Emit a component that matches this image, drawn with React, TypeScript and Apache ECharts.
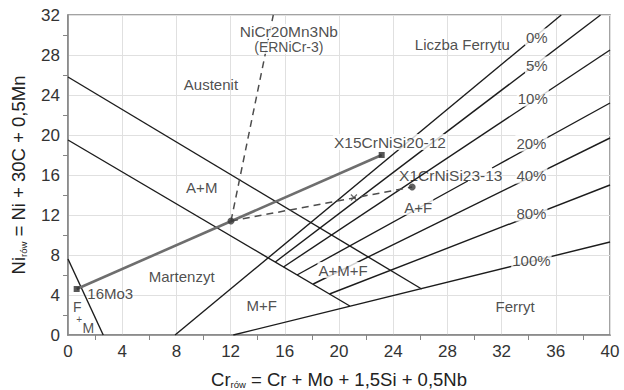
import { useEffect, useRef } from 'react';
import * as echarts from 'echarts';

const FONT = '"Liberation Sans", Arial, Helvetica, sans-serif';
const INK = '#222';
const LINE = '#1c1c1c';
const FRAME = '#858585';

// Axis ranges (Cr equivalent on x, Ni equivalent on y)
const X_MIN = 0;
const X_MAX = 40;
const X_STEP = 4;
const Y_MIN = 0;
const Y_MAX = 32;
const Y_STEP = 4;

// Phase boundaries, [Cr_rów, Ni_rów]
const austenitBoundary = [[0, 25.8], [26.1, 4.6]];
const martenzytBoundary = [[0, 19.5], [20.8, 2.9]];
const ferrytMartenzytBoundary = [[0, 7.6], [2.6, 0]];

// Ferrite number lines
const ferriteNumbers = ['0%', '5%', '10%', '20%', '40%', '80%', '100%'];
const ferriteStart = [[7.9, 0], [15.3, 7.3], [15.9, 6.8], [16.9, 6.0], [18.1, 5.1], [19.3, 4.1], [12.2, 0]];
const ferriteEnd = [[36.4, 32], [39.3, 32], [40, 28.5], [40, 23.2], [40, 19.7], [40, 15.0], [40, 9.3]];
const ferriteLabelAt = [[34.6, 29.8], [34.6, 27.0], [34.3, 23.7], [34.2, 19.2], [34.2, 16.0], [34.2, 12.2], [34.2, 7.5]];
// the 20% line is interrupted behind the X1CrNiSi23-13 caption
const ferrite20Break = [[29.5, 15.4], [31.3, 16.7]];

// Materials and the weld mixing point
const steel16Mo3 = [0.64, 4.6];
const steelX15 = [23.15, 18.0];
const steelX1 = [25.4, 14.8];
const weldMix = [12.03, 11.4];
const mixMidpoint = [21.1, 13.75];
const fillerDirection = [15.15, 32];

// Captions without a box: text, position, font size, line height
const regionNames = ['Austenit', 'A+M', 'Martenzyt', 'M+F', 'Ferryt', 'Liczba Ferrytu', 'F', '+', 'M', '16Mo3', 'X1CrNiSi23-13'];
const regionAt = [[10.55, 25.1], [9.87, 14.8], [8.39, 5.9], [14.3, 3.0], [33.0, 2.9], [29.1, 29.1], [0.68, 2.85], [0.83, 1.6], [1.5, 0.7], [3.12, 4.17], [28.25, 16.0]];
const regionSize = [15, 15, 15, 15, 15, 15, 14, 10, 14, 15, 15.5];
const regionLineHeight = [18, 18, 18, 18, 18, 18, 14, 9, 14, 18, 16];

// Captions on a white box that interrupts the lines behind them
const boxedNames = ['A+M+F', 'A+F', 'X15CrNiSi20-12', 'NiCr20Mn3Nb', '(ERNiCr-3)'];
const boxedAt = [[20.3, 6.5], [25.85, 12.8], [23.76, 19.3], [16.3, 30.35], [16.3, 28.8]];
const boxedSize = [15, 15, 15.5, 15.5, 14];
const boxedLineHeight = [16, 16, 16, 15, 14];

type Pt = number[];

function segment(data: Pt[], lineStyle: Record<string, unknown>, z = 2) {
  return {
    type: 'line',
    data,
    symbol: 'none',
    showSymbol: false,
    silent: true,
    z,
    lineStyle: { color: LINE, width: 1.4, ...lineStyle },
  };
}

function captions(
  names: string[],
  at: Pt[],
  sizes: number[],
  lineHeights: number[],
  label: Record<string, unknown>,
) {
  return {
    type: 'scatter',
    silent: true,
    z: 10,
    symbolSize: 1,
    itemStyle: { color: 'rgba(0,0,0,0)' },
    label: {
      show: true,
      position: 'inside',
      fontFamily: FONT,
      color: INK,
      ...label,
    },
    data: names.map((t, i) => ({
      value: at[i],
      label: { formatter: t, fontSize: sizes[i], lineHeight: lineHeights[i] },
    })),
  };
}

function buildOption() {
  const series: any[] = [];

  series.push(segment(austenitBoundary, {}));
  series.push(segment(martenzytBoundary, {}));
  series.push(segment(ferrytMartenzytBoundary, {}));

  ferriteNumbers.forEach((n, i) => {
    if (n === '20%') {
      series.push(segment([ferriteStart[i], ferrite20Break[0]], {}));
      series.push(segment([ferrite20Break[1], ferriteEnd[i]], {}));
    } else {
      series.push(segment([ferriteStart[i], ferriteEnd[i]], {}));
    }
  });

  // dilution lines
  series.push(segment([steel16Mo3, steelX15], { color: '#6e6e6e', width: 2.6 }, 3));
  series.push(segment([weldMix, fillerDirection], { color: '#4d4d4d', width: 1.5, type: [7, 5] }, 3));
  series.push(segment([weldMix, steelX1], { color: '#4d4d4d', width: 1.5, type: [7, 5] }, 3));

  // markers
  series.push({
    type: 'scatter', silent: true, z: 6, symbol: 'rect', symbolSize: 6,
    itemStyle: { color: '#2e2e2e' }, data: [steel16Mo3, steelX15],
  });
  series.push({
    type: 'scatter', silent: true, z: 6, symbol: 'circle', symbolSize: 7,
    itemStyle: { color: '#3a3a3a' }, data: [weldMix, steelX1],
  });
  series.push({
    type: 'scatter', silent: true, z: 6, symbol: 'path://M0 0L10 10M10 0L0 10', symbolSize: 6,
    itemStyle: { color: 'rgba(0,0,0,0)', borderColor: '#444', borderWidth: 1.2 }, data: [mixMidpoint],
  });

  // captions
  series.push(captions(regionNames, regionAt, regionSize, regionLineHeight, {}));
  series.push(captions(boxedNames, boxedAt, boxedSize, boxedLineHeight, { backgroundColor: '#fff', padding: [0, 1] }));
  series.push(captions(
    ferriteNumbers,
    ferriteLabelAt,
    ferriteNumbers.map(() => 15),
    ferriteNumbers.map(() => 17),
    { backgroundColor: '#fff', padding: [0, 1] },
  ));

  const rich = {
    m: { fontFamily: FONT, fontSize: 18.5, color: INK, lineHeight: 20 },
    s: { fontFamily: FONT, fontSize: 9.5, color: INK, lineHeight: 9, verticalAlign: 'bottom' },
  };

  const axisCommon = {
    type: 'value',
    axisLine: { show: true, lineStyle: { color: FRAME, width: 1.5 } },
    axisTick: { show: false },
    minorTick: { show: true, splitNumber: 2, length: 5, lineStyle: { color: FRAME, width: 1 } },
    splitLine: { show: true, lineStyle: { color: '#e0e0e0', width: 1 } },
    axisLabel: { fontFamily: FONT, fontSize: 17, color: '#333', margin: 8 },
    nameLocation: 'middle',
    nameTextStyle: { rich },
  };

  return {
    animation: false,
    backgroundColor: '#fff',
    grid: {
      left: 68, right: 14, top: 15, bottom: 55,
      outerBoundsMode: 'none',
      containLabel: false,
      show: true, borderColor: FRAME, borderWidth: 1.5,
    },
    xAxis: {
      ...axisCommon,
      min: X_MIN, max: X_MAX, interval: X_STEP,
      name: '{m|Cr}{s|rów}{m| = Cr + Mo + 1,5Si + 0,5Nb}',
      nameGap: 34,
    },
    yAxis: {
      ...axisCommon,
      min: Y_MIN, max: Y_MAX, interval: Y_STEP,
      name: '{m|Ni}{s|rów}{m| = Ni + 30C + 0,5Mn}',
      nameGap: 40,
      nameRotate: 90,
    },
    series,
  };
}

export default function App() {
  const ref = useRef<HTMLDivElement>(null);
  useEffect(() => {
    if (!ref.current) return;
    const chart = echarts.init(ref.current, undefined, { renderer: 'svg' });
    chart.setOption(buildOption() as any);
    return () => chart.dispose();
  }, []);
  return (
    <div
      ref={ref}
      style={{ position: 'fixed', left: 0, top: 0, width: 624, height: 390, background: '#fff' }}
    />
  );
}
